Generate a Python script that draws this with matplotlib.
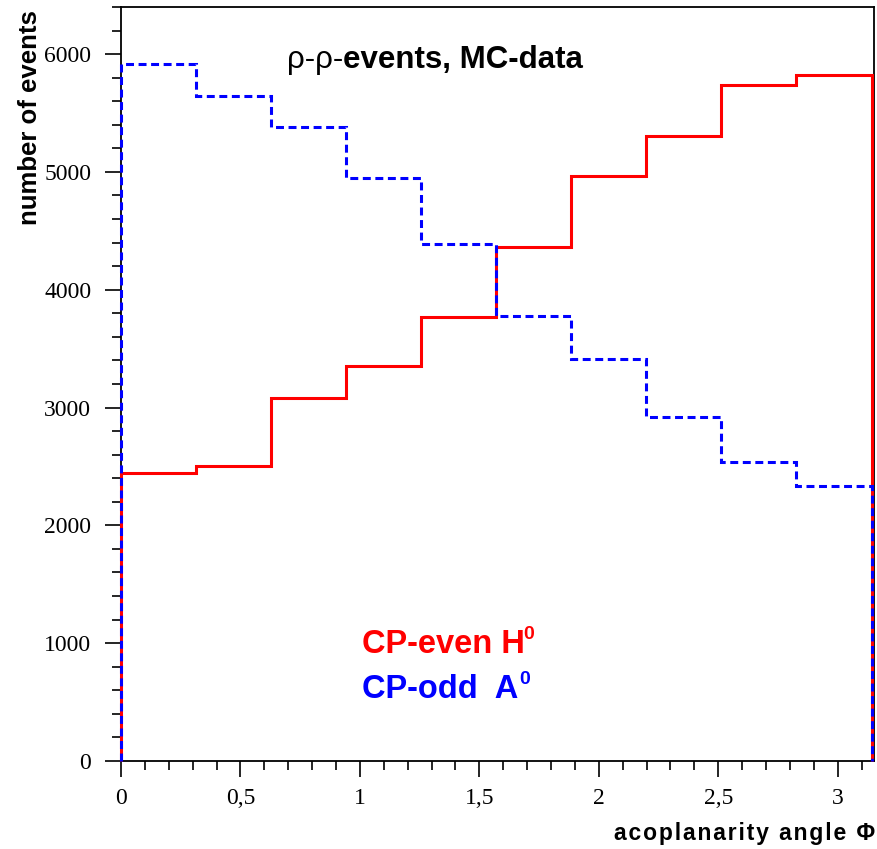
import numpy as np
import matplotlib
matplotlib.use("Agg")
import matplotlib.pyplot as plt
from matplotlib.ticker import MultipleLocator, FuncFormatter

# Acoplanarity angle binning: 10 bins over [0, pi]
n_bins = 10
phi_max = np.pi

# Event counts per bin
cp_even_H0 = [2445, 2500, 3077, 3349, 3765, 4360, 4965, 5305, 5736, 5821]
cp_odd_A0 = [5915, 5648, 5380, 4946, 4385, 3773, 3408, 2923, 2541, 2337]

x_ticks = [0, 0.5, 1, 1.5, 2, 2.5, 3]
y_ticks = [0, 1000, 2000, 3000, 4000, 5000, 6000]

edges = np.linspace(0, phi_max, n_bins + 1)

fig = plt.figure(figsize=(8.77, 8.49), dpi=100)
ax = fig.add_axes([0.138, 0.1037, 0.8586, 0.8881])

ax.stairs(cp_even_H0, edges, baseline=0, color="#ff0000", linewidth=2.2,
          clip_on=False, zorder=3)
ax.stairs(cp_odd_A0, edges, baseline=0, color="#0000ff", linewidth=2.2,
          linestyle=(0, (2.6, 1.5)), clip_on=False, zorder=4)

ax.set_xlim(0, 3.152)
ax.set_ylim(0, 6400)

ax.xaxis.set_minor_locator(MultipleLocator(0.1))
ax.yaxis.set_minor_locator(MultipleLocator(200))
ax.set_xticks(x_ticks)
ax.set_yticks(y_ticks)
ax.xaxis.set_major_formatter(FuncFormatter(lambda v, p: f"{v:g}".replace(".", ",")))
ax.yaxis.set_major_formatter(FuncFormatter(lambda v, p: f"{int(v)}"))

ax.tick_params(axis="both", which="major", direction="out", length=11.5,
               width=1.2, labelsize=17)
ax.tick_params(axis="both", which="minor", direction="out", length=6.5,
               width=1.2)
ax.tick_params(axis="x", which="major", pad=8)
ax.tick_params(axis="y", which="major", pad=10)
for lbl in ax.get_xticklabels() + ax.get_yticklabels():
    lbl.set_family("Liberation Serif")

for s in ax.spines.values():
    s.set_linewidth(1.3)
    s.set_color("black")

title = ax.annotate("ρ-ρ-", xy=(0.695, 5950), xycoords="data", fontsize=22.5,
                    family="Liberation Sans", va="center", ha="left")
ax.annotate("events, MC-data", xycoords=title, xy=(1, 0.5), fontsize=22.5,
            family="Liberation Sans", weight="bold", va="center", ha="left")

even = ax.annotate("CP-even H", xy=(1.008, 985), xycoords="data", fontsize=23.5,
                   color="#ff0000", family="Liberation Sans", weight="bold",
                   va="center", ha="left")
ax.annotate("0", xycoords=even, xy=(0.99, 0.55), fontsize=14, color="#ff0000",
            family="Liberation Sans", weight="bold", va="bottom", ha="left")
odd = ax.annotate("CP-odd  A", xy=(1.008, 605), xycoords="data", fontsize=23.5,
                  color="#0000ff", family="Liberation Sans", weight="bold",
                  va="center", ha="left")
ax.annotate("0", xycoords=odd, xy=(1.01, 0.55), fontsize=14, color="#0000ff",
            family="Liberation Sans", weight="bold", va="bottom", ha="left")

xlabel_text = "\u200a".join("acoplanarity angle Φ")
fig.text(0.998, 0.005, xlabel_text, fontsize=16.5,
         family=["Liberation Sans", "DejaVu Sans"], weight="bold",
         ha="right", va="bottom")
fig.text(0.021, 0.988, "number of events", rotation=90, fontsize=18.5,
         family="Liberation Sans", weight="bold", ha="left", va="top")

fig.savefig("out.png", dpi=100, facecolor="white")
